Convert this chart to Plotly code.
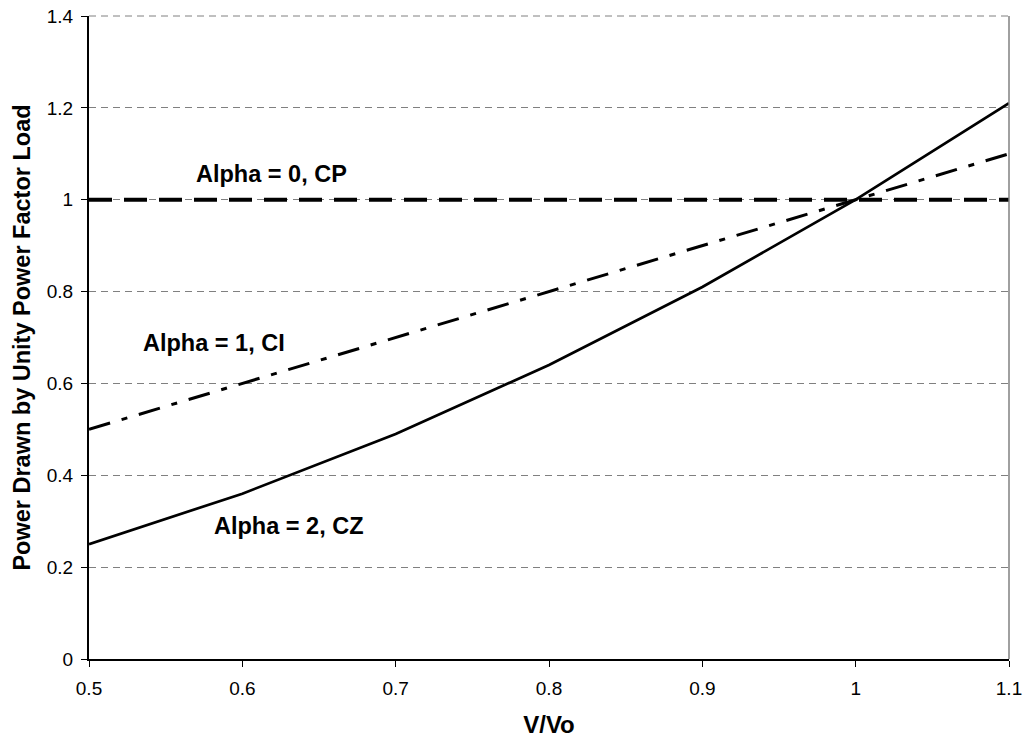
import plotly.graph_objects as go

v_ratio = [0.5, 0.6, 0.7, 0.8, 0.9, 1.0, 1.1]
p_cp = [1, 1, 1, 1, 1, 1, 1]
p_ci = [0.5, 0.6, 0.7, 0.8, 0.9, 1.0, 1.1]
p_cz = [0.25, 0.36, 0.49, 0.64, 0.81, 1.0, 1.21]

labels = ["Alpha = 0, CP", "Alpha = 1, CI", "Alpha = 2, CZ"]
label_x = [0.6187, 0.5815, 0.6307]
label_y = [1.057, 0.688, 0.290]

x_ticks = [0.5, 0.6, 0.7, 0.8, 0.9, 1.0, 1.1]
x_ticktext = ["0.5", "0.6", "0.7", "0.8", "0.9", "1", "1.1"]
y_ticks = [0, 0.2, 0.4, 0.6, 0.8, 1.0, 1.2, 1.4]
y_ticktext = ["0", "0.2", "0.4", "0.6", "0.8", "1", "1.2", "1.4"]

FONT = "Liberation Sans, Arial"

fig = go.Figure()
fig.add_trace(go.Scatter(x=v_ratio, y=p_cp, mode="lines",
                         line=dict(color="black", width=4, dash="23px,12px"),
                         showlegend=False, hoverinfo="skip"))
fig.add_trace(go.Scatter(x=v_ratio, y=p_ci, mode="lines",
                         line=dict(color="black", width=3, dash="22px,12px,6px,12px"),
                         showlegend=False, hoverinfo="skip"))
fig.add_trace(go.Scatter(x=v_ratio, y=p_cz, mode="lines",
                         line=dict(color="black", width=2.7),
                         showlegend=False, hoverinfo="skip"))

for t, xx, yy in zip(labels, label_x, label_y):
    fig.add_annotation(x=xx, y=yy, text="<b>" + t + "</b>", showarrow=False,
                       xanchor="center", yanchor="middle",
                       font=dict(family=FONT, size=23.5, color="black"))

# right border and dashed top gridline of the plot area
fig.add_shape(type="line", xref="paper", yref="paper", x0=1, x1=1, y0=0, y1=1,
              line=dict(color="#808080", width=1.5))
fig.add_shape(type="line", xref="paper", yref="paper", x0=0, x1=1, y0=1, y1=1,
              line=dict(color="#808080", width=1, dash="7px,5px"))

fig.update_layout(
    width=1025, height=738,
    margin=dict(l=89, r=16, t=16, b=79, autoexpand=False),
    paper_bgcolor="white", plot_bgcolor="white",
    font=dict(family=FONT, size=19, color="black"),
    xaxis=dict(range=[0.5, 1.1], tickvals=x_ticks, ticktext=x_ticktext,
               showgrid=False, zeroline=False, showline=True, linecolor="black", linewidth=2,
               ticks="outside", ticklen=6, tickcolor="black", tickwidth=1,
               tickfont=dict(size=19), automargin=False, ticklabelstandoff=5,
               title=dict(text="<b>V/Vo</b>", font=dict(size=24), standoff=19)),
    yaxis=dict(range=[0, 1.4], tickvals=y_ticks, ticktext=y_ticktext,
               showgrid=True, gridcolor="#808080", gridwidth=1, griddash="7px,5px",
               zeroline=False, showline=True, linecolor="black", linewidth=2,
               ticks="outside", ticklen=6, tickcolor="black", tickwidth=1,
               tickfont=dict(size=19), automargin=False, ticklabelstandoff=4,
               title=dict(text="<b>Power Drawn by Unity Power Factor Load</b>",
                          font=dict(size=23.5), standoff=10)),
)

# remove the default 8px page margin so the 1025x738 figure fills the window exactly
fig.write_html("out.html", config={"displayModeBar": False},
               post_script="document.body.style.margin='0';document.body.style.overflow='hidden';")
